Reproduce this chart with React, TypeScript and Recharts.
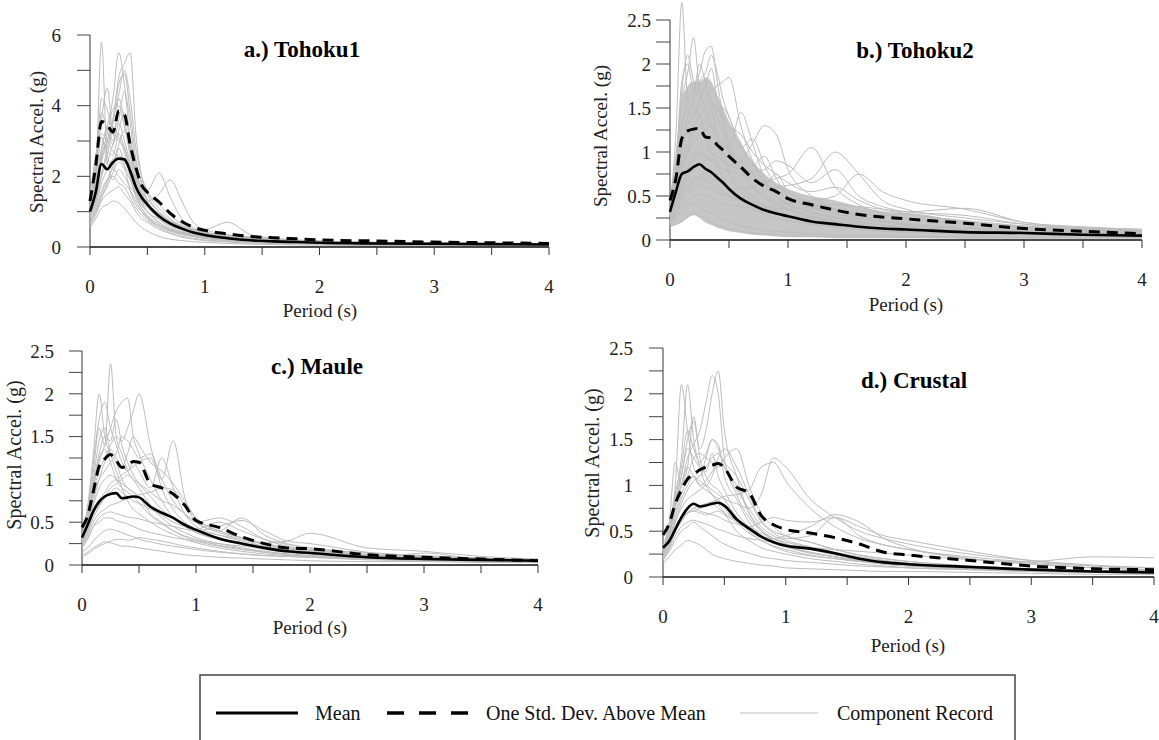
import React from 'react';
import { ComposedChart, Line, Area, XAxis, YAxis, ReferenceLine } from 'recharts';

const FONT = '"Liberation Serif", "Times New Roman", serif';

// periods (s) shared by every spectrum
const PERIODS = [0, 0.05, 0.1, 0.15, 0.2, 0.25, 0.3, 0.35, 0.4, 0.45, 0.5, 0.6, 0.7, 0.8, 0.9, 1.0, 1.2, 1.4, 1.6, 1.8, 2.0, 2.5, 3.0, 3.5, 4.0];
const X_TICKS = [0, 0.5, 1, 1.5, 2, 2.5, 3, 3.5, 4];
const Y_TICKS_TOHOKU1 = [0, 1, 2, 3, 4, 5, 6];
const Y_TICKS_SMALL = [0, 0.25, 0.5, 0.75, 1, 1.25, 1.5, 1.75, 2, 2.25, 2.5];

// a.) Tohoku1
const tohoku1Mean = [1.0, 1.55, 2.35, 2.2, 2.4, 2.5, 2.48, 2.15, 1.7, 1.4, 1.2, 0.88, 0.66, 0.52, 0.41, 0.34, 0.25, 0.19, 0.16, 0.14, 0.12, 0.1, 0.09, 0.08, 0.07];
const tohoku1Std = [1.3, 2.3, 3.55, 3.45, 3.25, 3.85, 3.75, 2.9, 2.25, 1.75, 1.55, 1.28, 0.95, 0.72, 0.56, 0.47, 0.37, 0.3, 0.26, 0.23, 0.2, 0.17, 0.14, 0.12, 0.1];
const tohoku1Records = [
  [1.0, 2.0, 5.8, 2.6, 2.2, 2.8, 2.3, 1.6, 1.2, 1.0, 0.85, 0.6, 0.45, 0.35, 0.3, 0.26, 0.2, 0.16, 0.13, 0.11, 0.1, 0.08, 0.07, 0.06, 0.05],
  [1.2, 1.8, 2.8, 3.4, 4.2, 5.5, 4.6, 3.0, 2.0, 1.5, 1.2, 0.8, 0.6, 0.45, 0.36, 0.3, 0.22, 0.18, 0.15, 0.13, 0.11, 0.09, 0.08, 0.07, 0.06],
  [1.1, 1.6, 2.4, 3.0, 3.6, 4.8, 5.2, 5.5, 3.2, 2.0, 1.5, 1.0, 0.7, 0.55, 0.42, 0.35, 0.27, 0.2, 0.17, 0.14, 0.12, 0.1, 0.09, 0.08, 0.07],
  [0.9, 2.2, 3.6, 4.5, 3.2, 3.0, 2.8, 2.2, 1.6, 1.2, 1.0, 0.7, 0.5, 0.4, 0.33, 0.27, 0.2, 0.16, 0.14, 0.12, 0.1, 0.09, 0.08, 0.07, 0.06],
  [0.8, 1.2, 1.8, 2.2, 2.5, 2.6, 2.4, 2.2, 1.9, 1.7, 1.6, 2.1, 1.4, 0.8, 0.55, 0.42, 0.3, 0.22, 0.18, 0.15, 0.13, 0.1, 0.09, 0.08, 0.07],
  [0.9, 1.3, 2.0, 2.4, 2.9, 3.2, 2.8, 2.3, 1.7, 1.4, 1.3, 1.5, 1.9, 1.3, 0.7, 0.5, 0.35, 0.26, 0.2, 0.17, 0.15, 0.12, 0.1, 0.09, 0.08],
  [0.55, 0.8, 1.1, 1.2, 1.3, 1.25, 1.1, 0.9, 0.7, 0.55, 0.45, 0.3, 0.22, 0.18, 0.15, 0.13, 0.1, 0.08, 0.07, 0.06, 0.05, 0.04, 0.04, 0.03, 0.03],
  [0.7, 1.1, 1.6, 1.9, 2.0, 1.8, 1.7, 1.4, 1.1, 0.9, 0.75, 0.55, 0.4, 0.3, 0.25, 0.2, 0.16, 0.13, 0.11, 0.1, 0.09, 0.07, 0.06, 0.05, 0.05],
  [1.0, 1.5, 2.5, 3.2, 3.9, 4.0, 3.4, 2.6, 1.8, 1.3, 1.0, 0.8, 0.65, 0.55, 0.5, 0.5, 0.7, 0.35, 0.25, 0.2, 0.17, 0.13, 0.11, 0.09, 0.08],
  [1.2, 2.4, 3.1, 2.7, 2.6, 3.3, 3.8, 3.0, 2.4, 1.8, 1.3, 0.9, 0.7, 0.6, 0.48, 0.4, 0.3, 0.25, 0.2, 0.18, 0.15, 0.12, 0.1, 0.09, 0.08],
  [1.05, 1.9, 3.1, 2.4, 1.9, 2.2, 2.0, 1.7, 1.5, 1.3, 1.1, 0.85, 0.62, 0.5, 0.4, 0.33, 0.26, 0.3, 0.22, 0.18, 0.16, 0.12, 0.1, 0.09, 0.08],
  [0.8, 1.0, 1.4, 1.7, 2.1, 2.4, 2.2, 1.9, 1.5, 1.1, 0.85, 0.6, 0.48, 0.38, 0.3, 0.25, 0.19, 0.15, 0.12, 0.11, 0.1, 0.08, 0.07, 0.06, 0.05],
  [1.4, 2.6, 3.2, 3.0, 2.7, 2.5, 2.3, 2.0, 1.5, 1.2, 1.0, 0.7, 0.5, 0.42, 0.36, 0.3, 0.24, 0.2, 0.16, 0.14, 0.13, 0.1, 0.09, 0.08, 0.07],
  [0.95, 1.4, 2.1, 2.6, 3.5, 4.6, 4.9, 3.8, 2.5, 1.8, 1.3, 0.9, 0.65, 0.5, 0.42, 0.37, 0.28, 0.22, 0.19, 0.16, 0.14, 0.11, 0.1, 0.08, 0.07],
  [0.6, 0.9, 1.3, 1.5, 1.6, 1.7, 1.5, 1.3, 1.0, 0.8, 0.7, 0.5, 0.38, 0.28, 0.22, 0.18, 0.14, 0.11, 0.1, 0.09, 0.08, 0.06, 0.05, 0.05, 0.04],
  [1.1, 1.7, 2.7, 3.4, 3.0, 3.6, 4.4, 3.5, 2.2, 1.7, 1.5, 1.1, 0.8, 0.6, 0.5, 0.42, 0.33, 0.27, 0.22, 0.19, 0.17, 0.13, 0.11, 0.09, 0.08],
  [0.85, 1.3, 2.0, 2.8, 3.4, 3.1, 2.7, 2.0, 1.4, 1.1, 0.9, 0.65, 0.5, 0.4, 0.32, 0.27, 0.21, 0.17, 0.14, 0.12, 0.11, 0.09, 0.08, 0.07, 0.06],
  [1.3, 2.1, 3.8, 3.3, 2.9, 4.2, 3.6, 2.7, 2.0, 1.6, 1.35, 1.0, 0.75, 0.58, 0.45, 0.38, 0.29, 0.23, 0.19, 0.16, 0.14, 0.11, 0.1, 0.08, 0.07],
  [0.7, 1.0, 1.5, 1.9, 2.3, 2.9, 3.3, 2.8, 2.1, 1.6, 1.2, 0.8, 0.55, 0.42, 0.33, 0.28, 0.2, 0.16, 0.13, 0.11, 0.1, 0.08, 0.07, 0.06, 0.05],
  [1.15, 2.0, 4.2, 3.9, 3.3, 3.5, 3.0, 2.4, 1.9, 1.5, 1.25, 0.95, 0.72, 0.55, 0.44, 0.36, 0.28, 0.22, 0.18, 0.15, 0.13, 0.1, 0.09, 0.08, 0.07],
  [0.65, 1.0, 1.4, 1.8, 2.2, 2.0, 1.8, 1.6, 1.3, 1.0, 0.8, 0.6, 0.45, 0.36, 0.3, 0.24, 0.18, 0.15, 0.12, 0.11, 0.1, 0.08, 0.07, 0.06, 0.05],
  [1.0, 1.6, 2.6, 3.0, 3.6, 4.3, 5.0, 4.2, 2.8, 2.0, 1.6, 1.2, 0.9, 0.65, 0.5, 0.4, 0.3, 0.24, 0.2, 0.17, 0.15, 0.12, 0.1, 0.09, 0.08],
];

// b.) Tohoku2
const tohoku2Mean = [0.32, 0.55, 0.75, 0.78, 0.83, 0.86, 0.81, 0.77, 0.71, 0.65, 0.58, 0.47, 0.4, 0.34, 0.3, 0.27, 0.21, 0.18, 0.15, 0.13, 0.12, 0.09, 0.08, 0.06, 0.05];
const tohoku2Std = [0.45, 0.7, 1.15, 1.24, 1.26, 1.27, 1.17, 1.16, 1.08, 1.02, 0.95, 0.83, 0.7, 0.61, 0.55, 0.47, 0.4, 0.34, 0.29, 0.26, 0.24, 0.19, 0.13, 0.1, 0.07];
const tohoku2BandHigh = [0.45, 1.0, 1.6, 1.75, 1.8, 1.8, 1.85, 1.8, 1.65, 1.5, 1.35, 1.1, 0.9, 0.75, 0.65, 0.58, 0.5, 0.45, 0.38, 0.33, 0.3, 0.22, 0.16, 0.13, 0.11];
const tohoku2BandLow = [0.15, 0.17, 0.2, 0.25, 0.28, 0.25, 0.2, 0.17, 0.14, 0.12, 0.1, 0.08, 0.06, 0.05, 0.04, 0.03, 0.03, 0.02, 0.02, 0.02, 0.02, 0.02, 0.02, 0.02, 0.02];
const tohoku2Records = [
  [0.4, 1.2, 2.7, 1.6, 1.5, 1.4, 1.2, 1.0, 0.85, 0.7, 0.6, 0.45, 0.35, 0.3, 0.25, 0.22, 0.18, 0.15, 0.12, 0.1, 0.09, 0.07, 0.06, 0.05, 0.04],
  [0.35, 0.9, 1.6, 1.9, 2.3, 1.7, 1.5, 1.3, 1.1, 0.9, 0.75, 0.55, 0.45, 0.38, 0.32, 0.27, 0.2, 0.17, 0.14, 0.12, 0.1, 0.08, 0.07, 0.06, 0.05],
  [0.3, 0.7, 1.3, 1.6, 1.7, 1.9, 2.15, 2.2, 1.8, 1.4, 1.1, 0.8, 0.6, 0.5, 0.42, 0.35, 0.27, 0.22, 0.18, 0.15, 0.13, 0.1, 0.08, 0.07, 0.06],
  [0.3, 0.6, 1.0, 1.3, 1.4, 1.5, 1.6, 1.7, 1.75, 1.8, 1.85, 1.3, 0.9, 0.65, 0.5, 0.42, 0.32, 0.26, 0.21, 0.17, 0.15, 0.11, 0.09, 0.08, 0.07],
  [0.25, 0.5, 0.8, 1.0, 1.1, 1.2, 1.25, 1.3, 1.2, 1.1, 1.05, 1.45, 1.1, 0.7, 0.5, 0.4, 0.3, 0.25, 0.2, 0.17, 0.14, 0.11, 0.09, 0.08, 0.07],
  [0.2, 0.4, 0.6, 0.8, 0.9, 1.0, 1.05, 1.0, 0.95, 0.9, 0.85, 0.9, 1.1, 1.3, 1.2, 0.8, 0.5, 0.35, 0.28, 0.22, 0.18, 0.14, 0.11, 0.09, 0.08],
  [0.2, 0.35, 0.5, 0.6, 0.7, 0.72, 0.75, 0.7, 0.68, 0.65, 0.6, 0.58, 0.6, 0.65, 0.7, 0.75, 1.05, 0.6, 0.4, 0.3, 0.25, 0.18, 0.14, 0.11, 0.1],
  [0.2, 0.3, 0.45, 0.55, 0.6, 0.62, 0.6, 0.58, 0.55, 0.52, 0.5, 0.48, 0.5, 0.55, 0.6, 0.62, 0.7, 1.0, 0.75, 0.45, 0.35, 0.25, 0.18, 0.14, 0.12],
  [0.18, 0.3, 0.4, 0.45, 0.5, 0.52, 0.5, 0.48, 0.45, 0.42, 0.4, 0.38, 0.36, 0.37, 0.4, 0.42, 0.45, 0.5, 0.75, 0.55, 0.45, 0.35, 0.2, 0.15, 0.12],
  [0.2, 0.35, 0.5, 0.6, 0.65, 0.7, 0.68, 0.65, 0.6, 0.55, 0.5, 0.45, 0.4, 0.38, 0.36, 0.35, 0.38, 0.4, 0.38, 0.35, 0.32, 0.36, 0.2, 0.14, 0.12],
  [0.15, 0.18, 0.22, 0.27, 0.3, 0.28, 0.24, 0.2, 0.17, 0.15, 0.13, 0.1, 0.08, 0.07, 0.06, 0.05, 0.04, 0.04, 0.03, 0.03, 0.03, 0.02, 0.02, 0.02, 0.02],
  [0.17, 0.25, 0.35, 0.4, 0.42, 0.38, 0.33, 0.3, 0.26, 0.22, 0.2, 0.16, 0.13, 0.11, 0.1, 0.09, 0.07, 0.06, 0.05, 0.05, 0.04, 0.04, 0.03, 0.03, 0.03],
  [0.35, 0.8, 1.7, 2.1, 1.8, 1.6, 1.7, 1.5, 1.2, 1.0, 0.8, 0.62, 0.5, 0.4, 0.34, 0.3, 0.24, 0.2, 0.16, 0.14, 0.12, 0.09, 0.08, 0.07, 0.06],
  [0.28, 0.6, 1.1, 1.4, 1.6, 1.8, 1.9, 2.1, 1.9, 1.6, 1.4, 1.1, 0.85, 0.95, 0.7, 0.5, 0.38, 0.3, 0.25, 0.2, 0.17, 0.13, 0.1, 0.09, 0.08],
  [0.25, 0.5, 0.9, 1.1, 1.3, 1.4, 1.5, 1.55, 1.5, 1.4, 1.3, 1.2, 1.0, 0.85, 0.75, 0.65, 0.55, 0.6, 0.45, 0.35, 0.3, 0.22, 0.16, 0.12, 0.1],
  [0.22, 0.45, 0.7, 0.85, 0.95, 1.0, 0.95, 0.9, 0.85, 0.8, 0.78, 0.75, 0.7, 0.65, 0.55, 0.48, 0.4, 0.35, 0.3, 0.28, 0.3, 0.2, 0.15, 0.12, 0.11],
  [0.3, 0.8, 1.8, 2.0, 1.7, 2.0, 1.8, 1.6, 1.4, 1.2, 1.0, 0.8, 0.6, 0.48, 0.4, 0.34, 0.26, 0.21, 0.17, 0.15, 0.13, 0.1, 0.08, 0.07, 0.06],
  [0.22, 0.45, 0.8, 1.0, 1.2, 1.3, 1.35, 1.4, 1.45, 1.5, 1.4, 1.05, 1.15, 0.85, 0.6, 0.48, 0.36, 0.3, 0.24, 0.2, 0.17, 0.13, 0.1, 0.09, 0.08],
  [0.28, 0.65, 1.3, 1.5, 1.4, 1.6, 1.75, 1.95, 1.6, 1.3, 1.1, 0.9, 0.75, 0.62, 0.75, 0.55, 0.42, 0.33, 0.27, 0.22, 0.19, 0.14, 0.11, 0.09, 0.08],
  [0.18, 0.35, 0.55, 0.7, 0.8, 0.85, 0.9, 0.92, 0.9, 0.88, 0.85, 0.8, 0.78, 0.8, 0.9, 0.85, 0.65, 0.8, 0.5, 0.38, 0.32, 0.28, 0.18, 0.13, 0.11],
];

// c.) Maule
const mauleMean = [0.32, 0.47, 0.63, 0.74, 0.8, 0.83, 0.84, 0.78, 0.79, 0.8, 0.79, 0.68, 0.61, 0.55, 0.47, 0.41, 0.31, 0.25, 0.2, 0.16, 0.14, 0.09, 0.07, 0.06, 0.05];
const mauleStd = [0.44, 0.58, 0.86, 1.15, 1.24, 1.29, 1.22, 1.14, 1.16, 1.21, 1.2, 0.95, 0.9, 0.83, 0.7, 0.52, 0.44, 0.33, 0.25, 0.2, 0.19, 0.12, 0.09, 0.07, 0.05];
const mauleRecords = [
  [0.3, 0.6, 1.1, 1.6, 1.4, 2.35, 1.5, 1.3, 1.1, 1.0, 0.9, 0.7, 0.55, 0.45, 0.38, 0.32, 0.25, 0.2, 0.16, 0.13, 0.11, 0.08, 0.06, 0.05, 0.04],
  [0.35, 0.7, 1.3, 2.0, 1.5, 1.3, 1.2, 1.0, 0.9, 0.85, 0.8, 0.6, 0.5, 0.4, 0.33, 0.28, 0.22, 0.18, 0.15, 0.12, 0.1, 0.08, 0.06, 0.05, 0.04],
  [0.3, 0.5, 0.9, 1.2, 1.4, 1.6, 1.8, 1.9, 1.95, 1.5, 1.3, 1.0, 0.75, 0.55, 0.45, 0.38, 0.3, 0.24, 0.18, 0.15, 0.13, 0.09, 0.07, 0.06, 0.05],
  [0.35, 0.55, 0.85, 1.1, 1.25, 1.4, 1.5, 1.45, 1.6, 1.8, 2.0, 1.4, 0.9, 0.65, 0.5, 0.42, 0.32, 0.25, 0.2, 0.16, 0.14, 0.1, 0.08, 0.06, 0.05],
  [0.25, 0.4, 0.6, 0.75, 0.85, 0.95, 1.0, 1.05, 1.1, 1.15, 1.2, 1.25, 1.0, 1.45, 0.8, 0.5, 0.38, 0.3, 0.24, 0.19, 0.16, 0.11, 0.09, 0.07, 0.06],
  [0.3, 0.5, 0.8, 1.0, 1.1, 1.2, 1.3, 1.5, 1.45, 1.35, 1.25, 1.3, 1.0, 0.75, 0.6, 0.5, 0.55, 0.45, 0.3, 0.22, 0.18, 0.12, 0.09, 0.07, 0.06],
  [0.2, 0.3, 0.45, 0.55, 0.6, 0.62, 0.6, 0.58, 0.56, 0.55, 0.54, 0.5, 0.48, 0.45, 0.42, 0.4, 0.45, 0.52, 0.4, 0.28, 0.25, 0.15, 0.11, 0.08, 0.06],
  [0.22, 0.35, 0.5, 0.6, 0.65, 0.7, 0.72, 0.75, 0.78, 0.8, 0.82, 0.85, 0.9, 0.88, 0.7, 0.55, 0.4, 0.32, 0.26, 0.28, 0.37, 0.2, 0.16, 0.1, 0.07],
  [0.12, 0.15, 0.2, 0.24, 0.27, 0.26, 0.24, 0.22, 0.22, 0.21, 0.2, 0.18, 0.16, 0.14, 0.12, 0.11, 0.09, 0.08, 0.07, 0.06, 0.05, 0.04, 0.04, 0.03, 0.03],
  [0.1, 0.13, 0.18, 0.22, 0.25, 0.28, 0.3, 0.3, 0.29, 0.3, 0.32, 0.3, 0.28, 0.25, 0.22, 0.2, 0.16, 0.13, 0.11, 0.1, 0.09, 0.07, 0.14, 0.06, 0.04],
  [0.28, 0.45, 0.7, 0.9, 1.0, 1.05, 1.0, 0.95, 0.9, 0.85, 0.8, 0.7, 0.62, 0.55, 0.48, 0.42, 0.35, 0.3, 0.25, 0.2, 0.18, 0.12, 0.09, 0.07, 0.06],
  [0.3, 0.55, 1.0, 1.45, 1.6, 1.3, 1.1, 0.9, 0.75, 0.65, 0.6, 0.5, 0.42, 0.36, 0.3, 0.26, 0.2, 0.16, 0.13, 0.11, 0.1, 0.07, 0.06, 0.05, 0.04],
  [0.26, 0.4, 0.6, 0.7, 0.8, 0.9, 0.95, 1.0, 1.05, 1.0, 0.95, 0.85, 0.75, 0.7, 0.6, 0.5, 0.4, 0.55, 0.35, 0.25, 0.2, 0.14, 0.1, 0.08, 0.06],
  [0.22, 0.32, 0.45, 0.5, 0.55, 0.55, 0.52, 0.5, 0.48, 0.45, 0.42, 0.38, 0.35, 0.32, 0.3, 0.28, 0.25, 0.22, 0.2, 0.18, 0.16, 0.11, 0.08, 0.06, 0.05],
  [0.32, 0.6, 1.2, 1.7, 1.9, 1.6, 1.4, 1.2, 1.1, 1.2, 1.1, 0.9, 1.25, 0.9, 0.6, 0.45, 0.35, 0.28, 0.22, 0.18, 0.15, 0.1, 0.08, 0.06, 0.05],
  [0.15, 0.2, 0.28, 0.35, 0.4, 0.42, 0.4, 0.38, 0.35, 0.33, 0.3, 0.27, 0.24, 0.22, 0.2, 0.18, 0.15, 0.13, 0.11, 0.1, 0.09, 0.06, 0.05, 0.04, 0.04],
  [0.33, 0.55, 0.95, 1.3, 1.5, 1.45, 1.7, 1.4, 1.2, 1.05, 0.95, 0.8, 0.65, 0.55, 0.45, 0.38, 0.3, 0.24, 0.19, 0.16, 0.14, 0.1, 0.08, 0.06, 0.05],
  [0.28, 0.45, 0.75, 1.0, 1.2, 1.35, 1.25, 1.15, 1.3, 1.5, 1.4, 1.2, 1.1, 0.95, 0.75, 0.55, 0.4, 0.32, 0.25, 0.2, 0.17, 0.12, 0.09, 0.07, 0.06],
  [0.25, 0.38, 0.55, 0.68, 0.78, 0.85, 0.9, 0.85, 0.8, 0.75, 0.72, 0.65, 0.58, 0.5, 0.45, 0.42, 0.5, 0.4, 0.3, 0.24, 0.2, 0.14, 0.1, 0.08, 0.06],
  [0.3, 0.5, 0.9, 1.25, 1.35, 1.2, 1.0, 0.9, 0.85, 0.8, 0.72, 0.58, 0.48, 0.4, 0.34, 0.3, 0.23, 0.19, 0.15, 0.13, 0.11, 0.08, 0.06, 0.05, 0.04],
];

// d.) Crustal
const crustalMean = [0.32, 0.39, 0.52, 0.65, 0.75, 0.8, 0.77, 0.78, 0.8, 0.81, 0.78, 0.63, 0.53, 0.44, 0.38, 0.34, 0.31, 0.26, 0.2, 0.16, 0.14, 0.11, 0.08, 0.06, 0.05];
const crustalStd = [0.46, 0.58, 0.8, 0.95, 1.07, 1.12, 1.17, 1.2, 1.22, 1.24, 1.19, 0.98, 0.92, 0.67, 0.57, 0.52, 0.48, 0.43, 0.36, 0.27, 0.24, 0.18, 0.12, 0.09, 0.08];
const crustalRecords = [
  [0.3, 0.5, 0.9, 1.3, 2.1, 1.5, 1.2, 1.0, 0.9, 0.8, 0.7, 0.5, 0.4, 0.32, 0.28, 0.25, 0.2, 0.17, 0.14, 0.12, 0.1, 0.08, 0.06, 0.05, 0.04],
  [0.28, 0.45, 0.8, 1.1, 1.5, 1.7, 1.4, 1.6, 2.0, 2.25, 1.6, 1.1, 0.7, 0.5, 0.4, 0.34, 0.27, 0.22, 0.18, 0.15, 0.13, 0.1, 0.08, 0.06, 0.05],
  [0.3, 0.5, 0.85, 1.0, 1.3, 1.45, 1.6, 1.9, 2.2, 2.0, 1.3, 0.9, 0.65, 0.5, 0.42, 0.36, 0.3, 0.24, 0.2, 0.16, 0.14, 0.1, 0.08, 0.07, 0.06],
  [0.25, 0.4, 0.6, 0.75, 0.85, 0.9, 0.95, 1.0, 0.95, 0.9, 0.85, 0.8, 0.75, 0.9, 1.3, 1.2, 0.85, 0.65, 0.5, 0.42, 0.36, 0.25, 0.18, 0.13, 0.1],
  [0.22, 0.35, 0.55, 0.65, 0.7, 0.75, 0.72, 0.7, 0.68, 0.66, 0.62, 0.58, 0.55, 0.6, 0.65, 0.62, 0.6, 0.65, 0.55, 0.45, 0.4, 0.28, 0.18, 0.12, 0.1],
  [0.2, 0.3, 0.45, 0.55, 0.6, 0.62, 0.6, 0.58, 0.55, 0.52, 0.5, 0.45, 0.42, 0.4, 0.38, 0.35, 0.32, 0.3, 0.28, 0.26, 0.24, 0.19, 0.17, 0.22, 0.21],
  [0.3, 0.45, 0.7, 0.9, 1.1, 1.3, 1.35, 1.3, 1.25, 1.2, 1.3, 1.4, 1.0, 0.7, 0.55, 0.45, 0.38, 0.3, 0.24, 0.2, 0.17, 0.12, 0.09, 0.07, 0.06],
  [0.25, 0.4, 0.6, 0.8, 0.95, 1.05, 1.1, 1.2, 1.3, 1.35, 1.25, 1.1, 0.85, 0.6, 0.48, 0.42, 0.45, 0.65, 0.45, 0.35, 0.3, 0.2, 0.14, 0.1, 0.08],
  [0.15, 0.22, 0.3, 0.35, 0.4, 0.38, 0.35, 0.3, 0.25, 0.22, 0.2, 0.17, 0.15, 0.13, 0.12, 0.1, 0.09, 0.08, 0.07, 0.06, 0.06, 0.05, 0.04, 0.03, 0.03],
  [0.18, 0.28, 0.4, 0.5, 0.55, 0.6, 0.55, 0.5, 0.45, 0.4, 0.36, 0.3, 0.26, 0.22, 0.2, 0.18, 0.16, 0.14, 0.12, 0.11, 0.1, 0.08, 0.06, 0.05, 0.04],
  [0.28, 0.45, 0.75, 1.0, 1.2, 1.1, 1.0, 1.05, 1.15, 1.25, 1.2, 0.95, 0.75, 0.55, 0.45, 0.4, 0.33, 0.27, 0.22, 0.18, 0.15, 0.11, 0.09, 0.07, 0.06],
  [0.3, 0.5, 0.8, 1.0, 1.2, 1.75, 1.3, 1.1, 1.0, 0.95, 0.85, 0.65, 0.5, 0.4, 0.34, 0.3, 0.24, 0.2, 0.17, 0.14, 0.12, 0.09, 0.07, 0.06, 0.05],
  [0.22, 0.35, 0.5, 0.62, 0.7, 0.75, 0.78, 0.8, 0.82, 0.85, 0.88, 0.9, 0.95, 1.2, 1.25, 1.05, 0.75, 0.55, 0.42, 0.35, 0.3, 0.22, 0.16, 0.12, 0.1],
  [0.35, 0.6, 1.25, 1.0, 1.05, 1.1, 1.0, 0.95, 0.9, 0.85, 0.75, 0.6, 0.48, 0.4, 0.33, 0.28, 0.23, 0.2, 0.17, 0.14, 0.12, 0.09, 0.07, 0.06, 0.05],
  [0.3, 0.55, 1.0, 2.1, 1.6, 1.2, 1.1, 1.3, 1.5, 1.4, 1.2, 1.0, 0.7, 0.52, 0.42, 0.36, 0.3, 0.25, 0.2, 0.16, 0.14, 0.1, 0.08, 0.07, 0.06],
  [0.25, 0.35, 0.5, 0.6, 0.7, 0.72, 0.7, 0.68, 0.7, 0.72, 0.68, 0.6, 0.52, 0.45, 0.42, 0.45, 0.55, 0.68, 0.6, 0.42, 0.32, 0.2, 0.15, 0.1, 0.08],
  [0.28, 0.45, 0.8, 1.1, 1.4, 1.3, 1.2, 1.15, 1.35, 1.1, 0.95, 0.7, 0.55, 0.45, 0.38, 0.33, 0.27, 0.22, 0.18, 0.15, 0.13, 0.1, 0.08, 0.06, 0.05],
  [0.25, 0.4, 0.65, 0.85, 1.0, 1.1, 1.05, 1.0, 1.1, 1.3, 1.4, 1.2, 0.9, 0.62, 0.5, 0.45, 0.38, 0.3, 0.24, 0.2, 0.17, 0.12, 0.09, 0.07, 0.06],
  [0.2, 0.32, 0.5, 0.62, 0.7, 0.72, 0.75, 0.78, 0.8, 0.75, 0.7, 0.62, 0.55, 0.48, 0.42, 0.38, 0.32, 0.26, 0.22, 0.18, 0.15, 0.11, 0.09, 0.07, 0.06],
  [0.3, 0.48, 0.85, 1.2, 1.6, 1.4, 1.25, 1.35, 1.5, 1.45, 1.1, 0.85, 0.6, 0.45, 0.38, 0.33, 0.26, 0.22, 0.18, 0.15, 0.13, 0.1, 0.08, 0.06, 0.05],
];

const GRAY = '#bdbdbd';
const BAND = '#c6c6c6';

interface PlotBox {
  x0: number; // page x of period 0
  x1: number; // page x of period 4
  yTop: number; // page y of yMax
  y0: number; // page y of 0 g
}

interface PanelProps {
  plot: PlotBox;
  yMax: number;
  yAxisTop: number;
  yTicks: number[];
  yLabel: (v: number) => string;
  yTickLen: number;
  yTickGap: number;
  mean: number[];
  std: number[];
  records: number[][];
  bandLow?: number[];
  bandHigh?: number[];
}

const Panel: React.FC<PanelProps> = ({ plot, yMax, yAxisTop, yTicks, yLabel, yTickLen, yTickGap, mean, std, records, bandLow, bandHigh }) => {
  const yW = 70;
  const xH = 55;
  const mt = 12;
  const mr = 14;
  const width = plot.x1 - plot.x0 + yW + mr;
  const height = mt + (plot.y0 - plot.yTop) + xH;

  const rows = PERIODS.map((p, i) => {
    const row: Record<string, any> = { p, mean: mean[i], std: std[i] };
    records.forEach((r, k) => {
      row[`r${k}`] = r[i];
    });
    if (bandLow && bandHigh) row.band = [bandLow[i], bandHigh[i]];
    return row;
  });

  const tickStyle = { fontSize: 19, fill: '#222', fontFamily: FONT };

  return (
    <div style={{ position: 'absolute', left: plot.x0 - yW, top: plot.yTop - mt }}>
      <ComposedChart width={width} height={height} data={rows} margin={{ top: mt, right: mr, bottom: 0, left: 0 }}>
        <XAxis
          dataKey="p"
          type="number"
          domain={[0, 4]}
          ticks={X_TICKS}
          interval={0}
          tickFormatter={(v: number) => (Number.isInteger(v) ? String(v) : '')}
          tickSize={8}
          tickMargin={25}
          height={xH}
          axisLine={{ stroke: '#111', strokeWidth: 1.5 }}
          tickLine={{ stroke: '#333' }}
          tick={tickStyle}
        />
        <YAxis
          type="number"
          domain={[0, yMax]}
          ticks={yTicks}
          interval={0}
          tickFormatter={yLabel}
          tickSize={yTickLen}
          tickMargin={yTickGap}
          width={yW}
          axisLine={false}
          tickLine={{ stroke: '#444' }}
          tick={tickStyle}
        />
        <ReferenceLine
          segment={[{ x: 0, y: 0 }, { x: 0, y: yAxisTop }]}
          stroke="#555"
          strokeWidth={1.2}
          ifOverflow="visible"
        />
        {bandLow && bandHigh && (
          <Area dataKey="band" type="monotone" stroke="none" fill={BAND} fillOpacity={1} isAnimationActive={false} />
        )}
        {records.map((_, k) => (
          <Line
            key={k}
            dataKey={`r${k}`}
            type="monotone"
            stroke={GRAY}
            strokeWidth={1}
            dot={false}
            activeDot={false}
            isAnimationActive={false}
          />
        ))}
        <Line dataKey="std" type="monotone" stroke="#000" strokeWidth={3} strokeDasharray="11 7" dot={false} isAnimationActive={false} />
        <Line dataKey="mean" type="monotone" stroke="#000" strokeWidth={2.6} dot={false} isAnimationActive={false} />
      </ComposedChart>
    </div>
  );
};

const evenLabel = (v: number) => (v % 2 === 0 ? String(v) : '');
const halfLabel = (v: number) => (Number.isInteger(v * 2) ? String(v) : '');

const Annotations: React.FC = () => {
  const title = { fontFamily: FONT, fontSize: 23, fontWeight: 700, fill: '#000' } as const;
  const axis = { fontFamily: FONT, fontSize: 19, fill: '#222' } as const;
  const yl = { fontFamily: FONT, fontSize: 19, fill: '#222' } as const;
  const legendText = { fontFamily: FONT, fontSize: 20, fill: '#111' } as const;
  return (
    <svg width={1159} height={740} style={{ position: 'absolute', left: 0, top: 0, pointerEvents: 'none' }}>
      <text x={302} y={49} textAnchor="middle" dominantBaseline="central" style={title}>a.) Tohoku1</text>
      <text x={915} y={50} textAnchor="middle" dominantBaseline="central" style={title}>b.) Tohoku2</text>
      <text x={317} y={366} textAnchor="middle" dominantBaseline="central" style={title}>c.) Maule</text>
      <text x={914} y={380} textAnchor="middle" dominantBaseline="central" style={title}>d.) Crustal</text>

      <text x={320} y={310} textAnchor="middle" dominantBaseline="central" style={axis}>Period (s)</text>
      <text x={906} y={304} textAnchor="middle" dominantBaseline="central" style={axis}>Period (s)</text>
      <text x={310} y={627} textAnchor="middle" dominantBaseline="central" style={axis}>Period (s)</text>
      <text x={908} y={645} textAnchor="middle" dominantBaseline="central" style={axis}>Period (s)</text>

      <text transform="translate(36,142) rotate(-90)" textAnchor="middle" dominantBaseline="central" style={yl}>Spectral Accel. (g)</text>
      <text transform="translate(600,136) rotate(-90)" textAnchor="middle" dominantBaseline="central" style={yl}>Spectral Accel. (g)</text>
      <text transform="translate(14,455) rotate(-90)" textAnchor="middle" dominantBaseline="central" style={{ ...yl, fontSize: 20 }}>Spectral Accel. (g)</text>
      <text transform="translate(592,463) rotate(-90)" textAnchor="middle" dominantBaseline="central" style={{ ...yl, fontSize: 20 }}>Spectral Accel. (g)</text>

      <rect x={200} y={675} width={815} height={90} fill="none" stroke="#444" strokeWidth={1.5} />
      <line x1={216} y1={713} x2={298} y2={713} stroke="#000" strokeWidth={3} />
      <text x={315} y={713} dominantBaseline="central" style={legendText}>Mean</text>
      <line x1={387} y1={713} x2={468} y2={713} stroke="#000" strokeWidth={3.5} strokeDasharray="17 15" />
      <text x={486} y={713} dominantBaseline="central" style={legendText}>One Std. Dev. Above Mean</text>
      <line x1={740} y1={713} x2={818} y2={713} stroke={GRAY} strokeWidth={1} />
      <text x={837} y={713} dominantBaseline="central" style={legendText}>Component Record</text>
    </svg>
  );
};

export default function App() {
  return (
    <div
      style={{
        position: 'absolute',
        left: 0,
        top: 0,
        width: 1159,
        height: 740,
        overflow: 'hidden',
        background: '#fff',
        fontFamily: FONT,
      }}
    >
      <Panel
        plot={{ x0: 90, x1: 549, yTop: 35, y0: 247 }}
        yMax={6}
        yAxisTop={6}
        yTicks={Y_TICKS_TOHOKU1}
        yLabel={evenLabel}
        yTickLen={13}
        yTickGap={16}
        mean={tohoku1Mean}
        std={tohoku1Std}
        records={tohoku1Records}
      />
      <Panel
        plot={{ x0: 670, x1: 1142, yTop: -2, y0: 240 }}
        yMax={2.75}
        yAxisTop={2.5}
        yTicks={Y_TICKS_SMALL}
        yLabel={halfLabel}
        yTickLen={14}
        yTickGap={5}
        mean={tohoku2Mean}
        std={tohoku2Std}
        records={tohoku2Records}
        bandLow={tohoku2BandLow}
        bandHigh={tohoku2BandHigh}
      />
      <Panel
        plot={{ x0: 82, x1: 538, yTop: 351, y0: 565 }}
        yMax={2.5}
        yAxisTop={2.5}
        yTicks={Y_TICKS_SMALL}
        yLabel={halfLabel}
        yTickLen={13}
        yTickGap={15}
        mean={mauleMean}
        std={mauleStd}
        records={mauleRecords}
      />
      <Panel
        plot={{ x0: 663, x1: 1154, yTop: 348, y0: 577 }}
        yMax={2.5}
        yAxisTop={2.5}
        yTicks={Y_TICKS_SMALL}
        yLabel={halfLabel}
        yTickLen={14}
        yTickGap={16}
        mean={crustalMean}
        std={crustalStd}
        records={crustalRecords}
      />
      <Annotations />
    </div>
  );
}
